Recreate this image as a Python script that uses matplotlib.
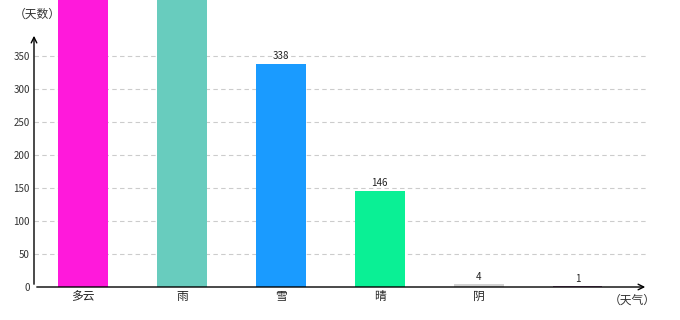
import matplotlib
matplotlib.use("Agg")
import matplotlib.pyplot as plt

plt.rcParams['font.family'] = ['Noto Sans CJK SC', 'DejaVu Sans']

categories = ['多云', '雨', '雪', '晴', '阴', '']
values = [900, 700, 338, 146, 4, 1]
colors = ['#ff19db', '#68ccbe', '#1a9bff', '#0af095', '#d3d3d3', '#8b5a8b']
yticks = [0, 50, 100, 150, 200, 250, 300, 350]

px_per_unit = 0.66
fig = plt.figure(figsize=(6.8, 3.2), dpi=100)
ax = fig.add_axes([34/680, 1-287/320, 614/680, 287/320])
ymax = 287/px_per_unit
ax.set_ylim(0, ymax)
ax.set_xlim(-0.495, 5.71)

for s in ax.spines.values():
    s.set_visible(False)

for y in yticks[1:]:
    ax.axhline(y, color='#cccccc', lw=0.8, ls=(0, (4, 3)), zorder=0)

ax.text(-0.46, (287-14)/px_per_unit, '（天数）', fontsize=8.5, ha='center', va='center', color='#333333', zorder=1)

x = list(range(len(categories)))
bars = ax.bar(x, values, width=0.5, color=colors, zorder=2, clip_on=False)
for xi, v in zip(x, values):
    if v + 20 < ymax:
        ax.text(xi, v + 4, str(v), ha='center', va='bottom', fontsize=7, color='#222222', zorder=3)

# axes with arrows
ax.annotate('', xy=(-0.495, (287-33)/px_per_unit), xytext=(-0.495, 0),
            arrowprops=dict(arrowstyle='->', color='black', lw=1), zorder=4)
ax.annotate('', xy=(5.71, 0), xytext=(-0.495, 0),
            arrowprops=dict(arrowstyle='->', color='black', lw=1), zorder=4, annotation_clip=False)

ax.set_yticks(yticks)
ax.set_yticklabels([str(t) for t in yticks], fontsize=7, color='#333333')
ax.tick_params(axis='y', length=0, pad=3)
ax.set_xticks(x)
ax.set_xticklabels(categories, fontsize=8.5, color='#222222')
ax.tick_params(axis='x', length=0, pad=2)

fig.text(632/680, 1-300/320, '（天气）', fontsize=8.5, ha='center', va='center', color='#333333')

fig.savefig('out.png', dpi=100)
